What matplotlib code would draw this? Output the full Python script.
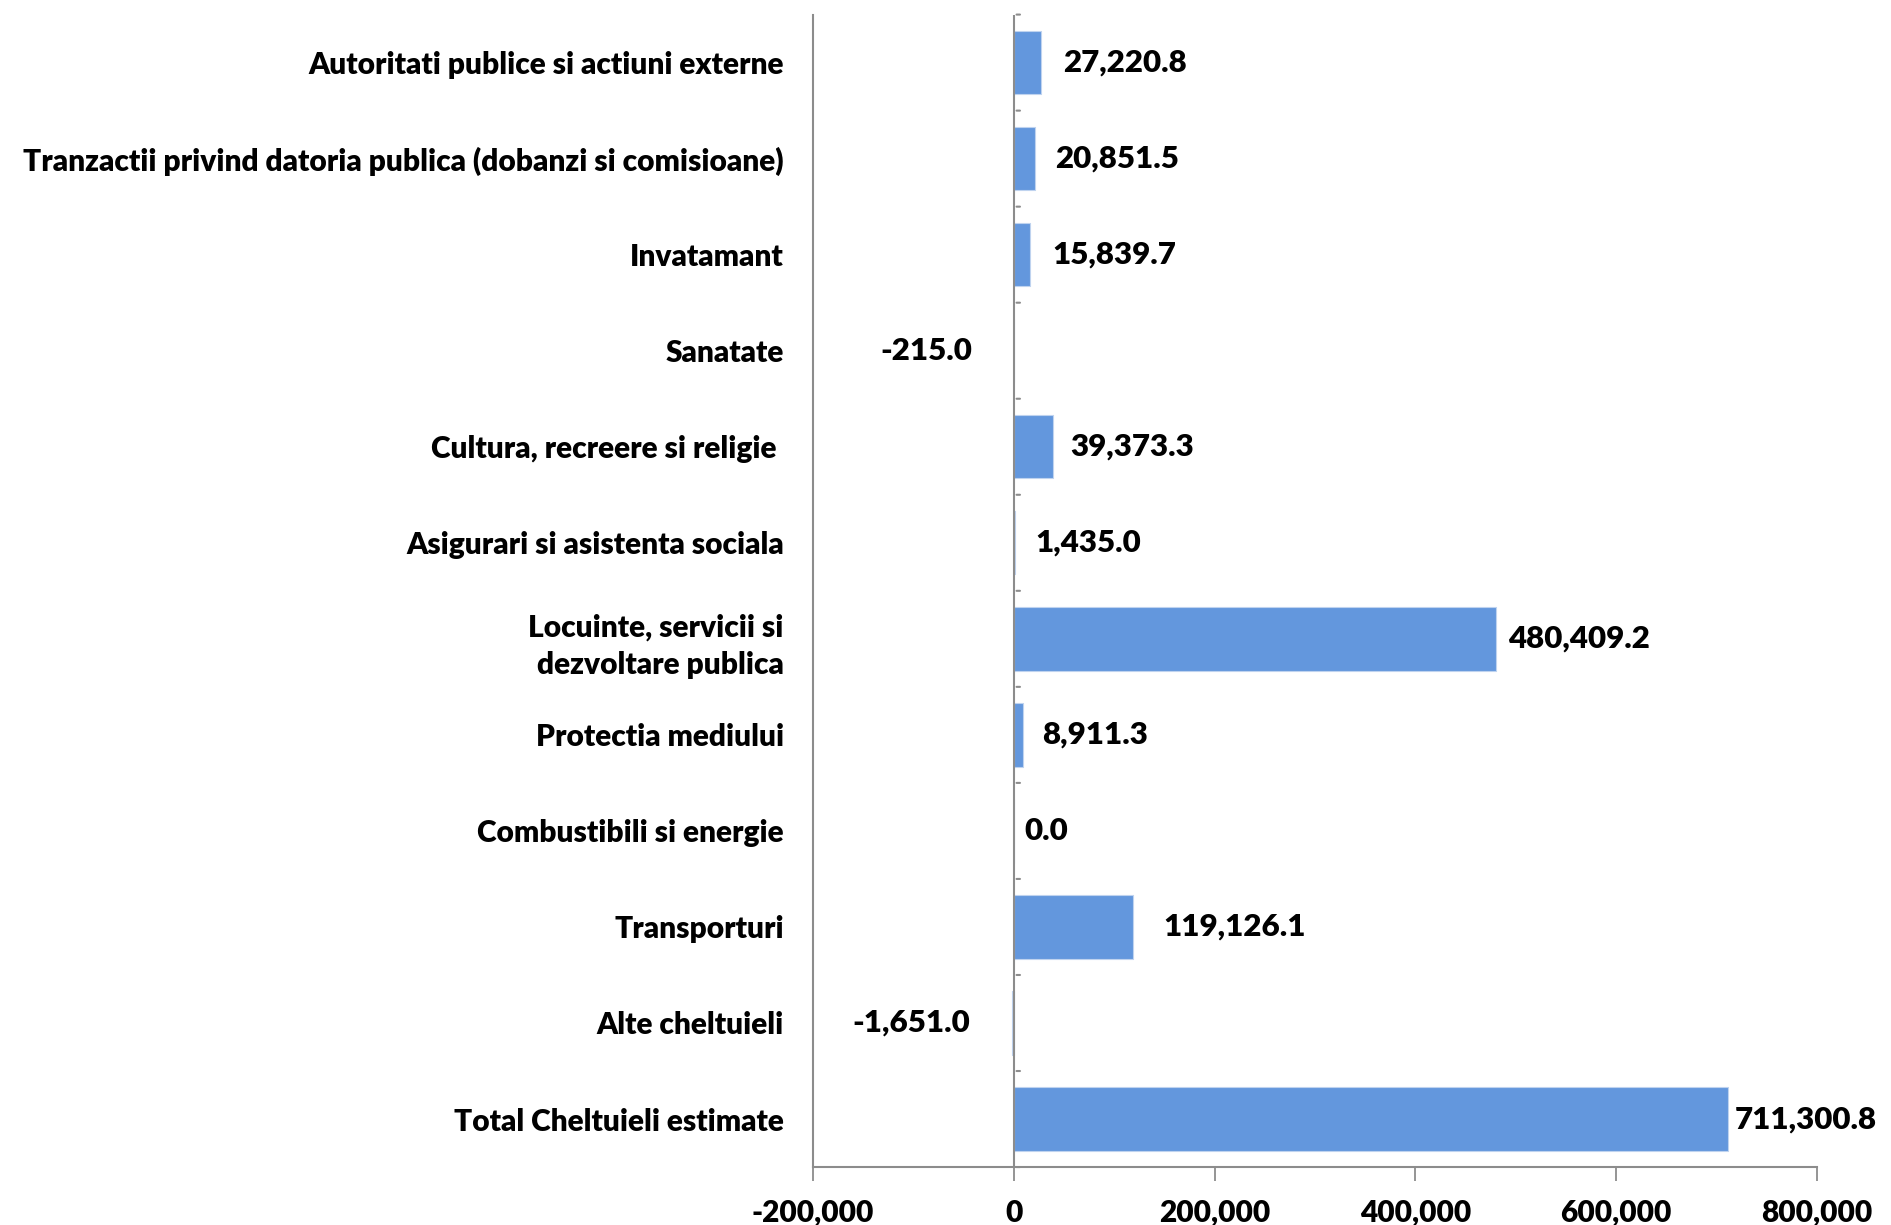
import matplotlib
matplotlib.use("Agg")
import matplotlib.pyplot as plt
from matplotlib.ticker import FuncFormatter

categories = [
    "Autoritati publice si actiuni externe",
    "Tranzactii privind datoria publica (dobanzi si comisioane)",
    "Invatamant",
    "Sanatate",
    "Cultura, recreere si religie ",
    "Asigurari si asistenta sociala",
    "Locuinte, servicii si\ndezvoltare publica",
    "Protectia mediului",
    "Combustibili si energie",
    "Transporturi",
    "Alte cheltuieli",
    "Total Cheltuieli estimate",
]
values = [27220.8, 20851.5, 15839.7, -215.0, 39373.3, 1435.0,
          480409.2, 8911.3, 0.0, 119126.1, -1651.0, 711300.8]
x_ticks = [-200000, 0, 200000, 400000, 600000, 800000]

# label offsets in pixels (Excel labels were nudged by hand)
label_dx = [22, 20, 23, -42, 17, 20, 12, 19, 11, 30, -44, 7]

BAR = "#6397DD"
GRID = "#8C8C8C"
FS = 21.5
WEIGHT = "heavy"
plt.rcParams["font.family"] = ["Lato", "DejaVu Sans"]

fig = plt.figure(figsize=(18.91, 12.25), dpi=100)
ax = fig.add_axes([0.4299, 0.0473, 0.5310, 0.9408])

ypos = list(range(len(categories)))
ax.barh(ypos, values, height=0.66, color=BAR, edgecolor="#BFD3EF", linewidth=0.8, zorder=2)
ax.set_ylim(len(categories) - 0.5, -0.5)
ax.set_xlim(-200000, 800000)

ax.set_yticks(ypos)
ax.set_yticklabels(categories, fontsize=FS, fontweight=WEIGHT, linespacing=1.4)
ax.tick_params(axis="y", length=0, pad=21)
ax.set_xticks(x_ticks)
ax.xaxis.set_major_formatter(FuncFormatter(lambda v, p: f"{v:,.0f}"))
ax.tick_params(axis="x", labelsize=FS, length=10, width=1.3, color=GRID, pad=13)
for lab in ax.get_xticklabels():
    lab.set_fontweight(WEIGHT)

for side in ("top", "right"):
    ax.spines[side].set_visible(False)
for side in ("left", "bottom"):
    ax.spines[side].set_color(GRID)
    ax.spines[side].set_linewidth(1.5)

# category axis at zero with boundary ticks
ax.axvline(0, color=GRID, linewidth=1.5, zorder=3)
for b in range(len(categories) + 1):
    ax.annotate("", xy=(0, b - 0.5), xytext=(9, 0), textcoords="offset pixels",
                arrowprops=dict(arrowstyle="-", color=GRID, lw=1.5))

for y, v, dx in zip(ypos, values, label_dx):
    ax.annotate(f"{v:,.1f}", xy=(max(v, 0), y), xytext=(dx, 0), textcoords="offset pixels",
                ha="left" if dx > 0 else "right", va="center",
                fontsize=22.5, fontweight=WEIGHT, color="black")

fig.savefig("out.png", dpi=100)
